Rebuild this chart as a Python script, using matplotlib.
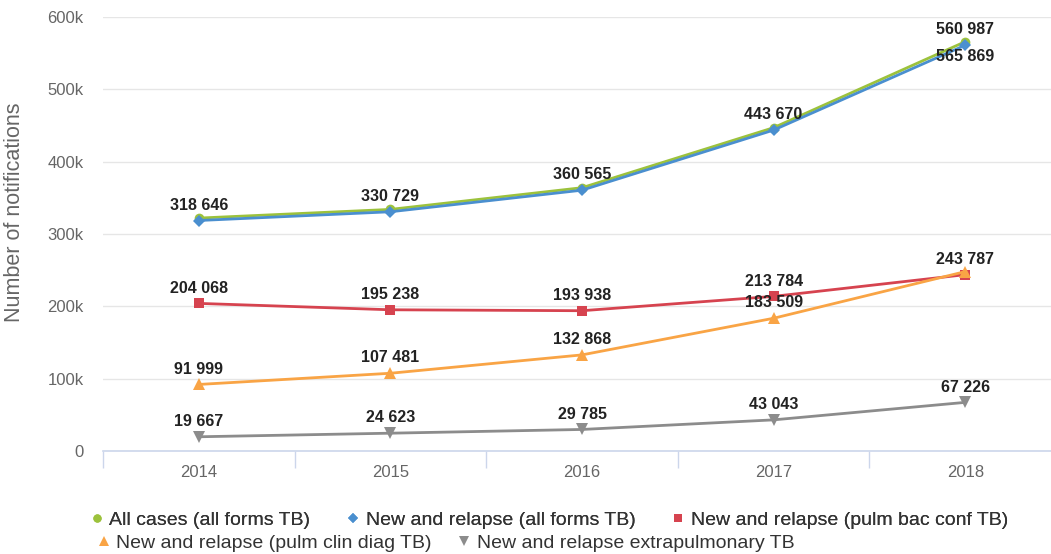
import matplotlib.pyplot as plt
from matplotlib.lines import Line2D

years = ["2014", "2015", "2016", "2017", "2018"]

all_cases = [322000, 334000, 364000, 447000, 565869]
new_relapse_all = [318646, 330729, 360565, 443670, 560987]
pulm_bac_conf = [204068, 195238, 193938, 213784, 243787]
pulm_clin_diag = [91999, 107481, 132868, 183509, 248000]
extrapulmonary = [19667, 24623, 29785, 43043, 67226]

series_names = [
    "All cases (all forms TB)",
    "New and relapse (all forms TB)",
    "New and relapse (pulm bac conf TB)",
    "New and relapse (pulm clin diag TB)",
    "New and relapse extrapulmonary TB",
]
colors = ["#9cc23c", "#4a8fcf", "#d6434f", "#f9a445", "#8c8c8c"]
markers = ["o", "D", "s", "^", "v"]
msizes = [7, 6, 7.5, 8, 8]

# which points carry a value label and whether it sits above (+1) or below (-1)
label_pos = [
    [0, 0, 0, 0, -1],
    [1, 1, 1, 1, 1],
    [1, 1, 1, 1, 1],
    [1, 1, 1, 1, 0],
    [1, 1, 1, 1, 1],
]

data = [all_cases, new_relapse_all, pulm_bac_conf, pulm_clin_diag, extrapulmonary]

plt.rcParams["font.family"] = ["Liberation Sans", "DejaVu Sans"]

fig = plt.figure(figsize=(10.51, 5.54), dpi=100)
ax = fig.add_axes([103 / 1051, 103 / 554, 958 / 1051, 434 / 554])

x = list(range(len(years)))
for vals, name, c, m, ms in zip(data, series_names, colors, markers, msizes):
    ax.plot(x, vals, color=c, lw=2.0, marker=m, ms=ms, label=name,
            markeredgewidth=0, zorder=3)

fmt = lambda v: f"{v:,}".replace(",", " ")
for vals, pos in zip(data, label_pos):
    for i, v in enumerate(vals):
        if pos[i] == 0:
            continue
        ax.annotate(fmt(v), (i, v), xytext=(0, 11 * pos[i]),
                    textcoords="offset points", ha="center", va="center",
                    fontsize=11.5, fontweight="bold", color="#222222", zorder=5)

ax.set_xlim(-0.5, 4.5)
ax.set_ylim(0, 600000)
ax.set_yticks(range(0, 600001, 100000))
ax.set_yticklabels(["0"] + [f"{k}k" for k in range(100, 601, 100)])
ax.set_xticks(x)
ax.set_xticklabels(years)
ax.set_xticks([i - 0.5 for i in range(6)], minor=True)
ax.tick_params(axis="x", which="major", length=0, pad=10, labelsize=12,
               labelcolor="#666666")
ax.tick_params(axis="x", which="minor", length=12, color="#ccd6eb", width=1)
ax.tick_params(axis="y", length=0, pad=14, labelsize=12, labelcolor="#666666")

ax.grid(axis="y", color="#e6e6e6", lw=1)
ax.set_axisbelow(True)
for s in ["top", "right", "left"]:
    ax.spines[s].set_visible(False)
ax.spines["bottom"].set_color("#ccd6eb")
ax.spines["bottom"].set_linewidth(1.2)

ax.set_ylabel("Number of notifications", fontsize=15.5, color="#666666")
ax.yaxis.set_label_coords(-0.081, 0.55)

handles = [Line2D([], [], color=c, marker=m, ls="none", ms=ms * 0.85,
                  markeredgewidth=0)
           for c, m, ms in zip(colors, markers, msizes)]
leg1 = fig.legend(handles[:3], series_names[:3], loc="center left",
                  bbox_to_anchor=(86 / 1051, 1 - 520 / 554), ncol=3,
                  frameon=False, handletextpad=0.1, columnspacing=1.65,
                  prop={"size": 14}, labelcolor="#333333",
                  handlelength=1.1, borderpad=0, borderaxespad=0)
leg2 = fig.legend(handles[3:], series_names[3:], loc="center left",
                  bbox_to_anchor=(93 / 1051, 1 - 543 / 554), ncol=2,
                  frameon=False, handletextpad=0.1, columnspacing=1.1,
                  prop={"size": 14}, labelcolor="#333333",
                  handlelength=1.1, borderpad=0, borderaxespad=0)
fig.add_artist(leg1)

fig.savefig("out.png", dpi=100)
